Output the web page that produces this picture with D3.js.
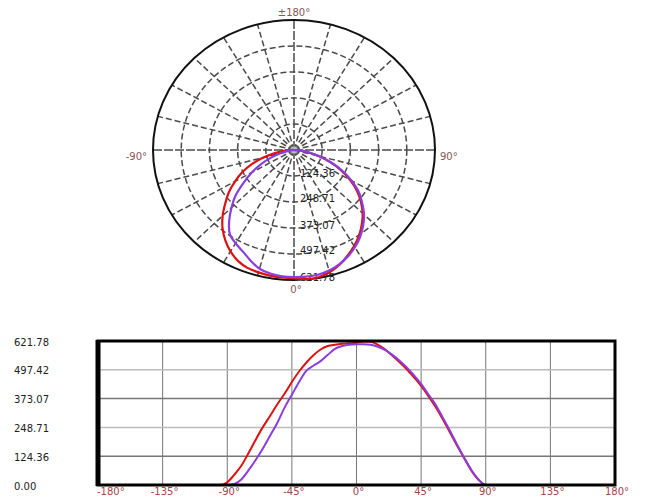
<!DOCTYPE html>
<html>
<head>
<meta charset="utf-8">
<script src="https://cdnjs.cloudflare.com/ajax/libs/d3/7.8.5/d3.min.js"></script>
<style>
  body { margin: 0; background: #fff; }
  text { font-family: "DejaVu Sans", Verdana, sans-serif; }
</style>
</head>
<body>
<div id="chart"></div>
<script>
// angles in degrees, 0 = straight down
var angles = d3.range(-180, 181, 5);
var redValues = [
  0,0,0,0,0,0,0,0,0,0,0,0,0,0,0,0,0,0,
  12,45,85,140,198,252,300,350,395,445,490,528,560,585,600,606,610,612,
  614,620,618,605,585,558,530,500,465,428,385,338,285,228,170,115,62,22,
  0,0,0,0,0,0,0,0,0,0,0,0,0,0,0,0,0,0,0
];
var purpleValues = [
  0,0,0,0,0,0,0,0,0,0,0,0,0,0,0,0,0,0,
  0,5,25,65,110,160,215,270,335,390,445,493,515,535,562,588,600,606,
  608,608,606,597,582,562,537,508,474,437,392,348,292,235,175,118,65,24,
  0,0,0,0,0,0,0,0,0,0,0,0,0,0,0,0,0,0,0
];
var maxValue = 621.78;
var ringLabels = ["124.36", "248.71", "373.07", "497.42", "621.78"];
var yTickLabels = ["0.00", "124.36", "248.71", "373.07", "497.42", "621.78"];
var xTicks = [-180, -135, -90, -45, 0, 45, 90, 135, 180];

var red = "#dd1111", purple = "#8a3ee0";

var svg = d3.select('#chart').append('svg')
    .attr("width", 645)
    .attr("height", 498);

// ---------- polar part ----------
var cx = 294, cy = 150;
var rxs = d3.scaleLinear().domain([0, maxValue]).range([0, 141]);
var rys = d3.scaleLinear().domain([0, maxValue]).range([0, 130]);
function px(a, v) { return cx + rxs(v) * Math.sin(a * Math.PI / 180); }
function py(a, v) { return cy + rys(v) * Math.cos(a * Math.PI / 180); }

var polar = svg.append("g");

// rings
polar.selectAll(".ring")
    .data(ringLabels.slice(0, 4).map(d => +d))
    .enter().append("ellipse")
    .attr("cx", cx).attr("cy", cy)
    .attr("rx", d => rxs(d)).attr("ry", d => rys(d))
    .attr("fill", "none")
    .attr("stroke", "#4a4a4a")
    .attr("stroke-width", 1.5)
    .attr("stroke-dasharray", "6,3");

// spokes every 15 degrees
polar.selectAll(".spoke")
    .data(d3.range(0, 360, 15))
    .enter().append("line")
    .attr("x1", cx).attr("y1", cy)
    .attr("x2", d => px(d, maxValue))
    .attr("y2", d => py(d, maxValue))
    .attr("stroke", "#4a4a4a")
    .attr("stroke-width", 1.5)
    .attr("stroke-dasharray", d => (d % 90 == 0) ? "9,2" : "6,3");

// outer ellipse
polar.append("ellipse")
    .attr("cx", cx).attr("cy", cy)
    .attr("rx", rxs(maxValue)).attr("ry", rys(maxValue))
    .attr("fill", "none")
    .attr("stroke", "#111")
    .attr("stroke-width", 2);

// small center circle
polar.append("circle")
    .attr("cx", cx).attr("cy", cy).attr("r", 4)
    .attr("fill", "#bbb").attr("stroke", "#777");

// ring value labels
polar.selectAll(".rlabel")
    .data(ringLabels)
    .enter().append("text")
    .attr("x", cx + 6)
    .attr("y", d => py(0, +d) - 3)
    .attr("dy", "0.35em")
    .attr("font-size", 10)
    .attr("fill", "#222")
    .text(d => d);

// angle labels
var angleLabels = [
  { t: "±180°", x: cx, y: 12, anchor: "middle" },
  { t: "-90°", x: 147, y: 156, anchor: "end" },
  { t: "90°", x: 440, y: 156, anchor: "start" },
  { t: "0°", x: cx + 2, y: 289, anchor: "middle" }
];
polar.selectAll(".alabel")
    .data(angleLabels)
    .enter().append("text")
    .attr("x", d => d.x).attr("y", d => d.y)
    .attr("dy", "0.35em")
    .attr("text-anchor", d => d.anchor)
    .attr("font-size", 10)
    .attr("fill", "#8a5555")
    .text(d => d.t);

var polarLine = d3.line()
    .x(d => px(d[0], d[1]))
    .y(d => py(d[0], d[1]))
    .curve(d3.curveCatmullRomClosed);

[[redValues, red], [purpleValues, purple]].forEach(function (s) {
    var pts = angles.slice(0, angles.length - 1).map((a, i) => [a, s[0][i]]);
    polar.append("path")
        .attr("d", polarLine(pts))
        .attr("fill", "none")
        .attr("stroke", s[1])
        .attr("stroke-width", 2.2);
});

// ---------- linear part ----------
var x = d3.scaleLinear().domain([-180, 180]).range([98, 615]);
var y = d3.scaleLinear().domain([0, maxValue]).range([485, 341]);

var lin = svg.append("g");

lin.selectAll(".vgrid")
    .data(xTicks.slice(1, -1))
    .enter().append("line")
    .attr("x1", d => x(d)).attr("x2", d => x(d))
    .attr("y1", y(maxValue)).attr("y2", y(0))
    .attr("stroke", "#777").attr("stroke-width", 1);

lin.selectAll(".hgrid")
    .data(yTickLabels.slice(1, -1))
    .enter().append("line")
    .attr("x1", x(-180)).attr("x2", x(180))
    .attr("y1", d => y(+d)).attr("y2", d => y(+d))
    .attr("stroke", (d, i) => i % 2 == 0 ? "#777" : "#bbb")
    .attr("stroke-width", 1.5);

var line = d3.line()
    .x((d, i) => x(angles[i]))
    .y(d => y(d))
    .curve(d3.curveMonotoneX);

lin.append("path").attr("d", line(redValues))
    .attr("fill", "none").attr("stroke", red).attr("stroke-width", 2);
lin.append("path").attr("d", line(purpleValues))
    .attr("fill", "none").attr("stroke", purple).attr("stroke-width", 2);

// frame
lin.append("rect")
    .attr("x", x(-180)).attr("y", y(maxValue))
    .attr("width", x(180) - x(-180)).attr("height", y(0) - y(maxValue))
    .attr("fill", "none").attr("stroke", "#000").attr("stroke-width", 3);
lin.append("line")
    .attr("x1", x(-180)).attr("x2", x(-180))
    .attr("y1", y(maxValue) - 1).attr("y2", y(0) + 1)
    .attr("stroke", "#000").attr("stroke-width", 5);

// y labels
lin.selectAll(".ylabel")
    .data(yTickLabels)
    .enter().append("text")
    .attr("x", 14)
    .attr("y", d => y(+d) + 1)
    .attr("dy", "0.35em")
    .attr("font-size", 10)
    .attr("fill", "#222")
    .text(d => d);

// x labels
lin.selectAll(".xlabel")
    .data(xTicks)
    .enter().append("text")
    .attr("x", d => d == -180 ? x(d) - 1 : x(d) + 2)
    .attr("y", 491)
    .attr("dy", "0.35em")
    .attr("text-anchor", d => d == -180 ? "start" : "middle")
    .attr("font-size", 10)
    .attr("fill", "#a04848")
    .text(d => d + "°");
</script>
</body>
</html>
